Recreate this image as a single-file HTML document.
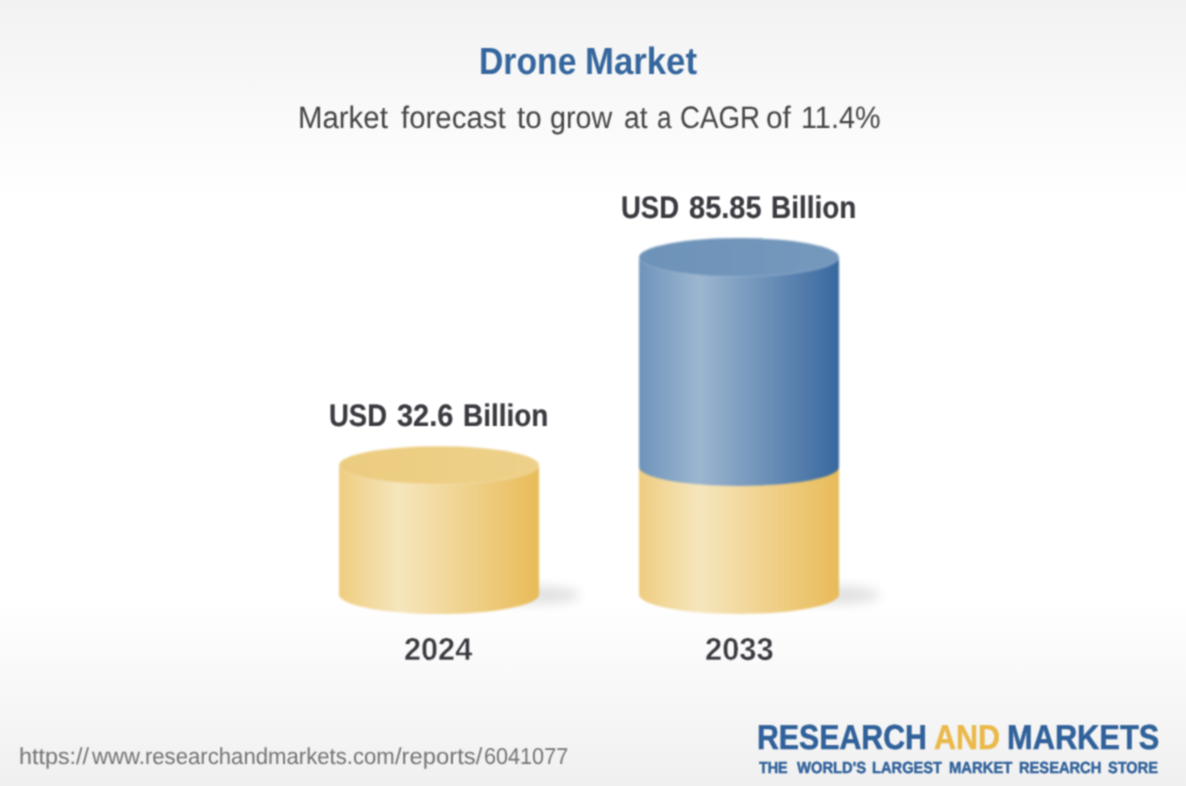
<!DOCTYPE html>
<html lang="en">
<head>
<meta charset="utf-8">
<title>Drone Market</title>
<style>
html,body{margin:0;padding:0;}
body{width:1186px;height:786px;overflow:hidden;position:relative;
  font-family:"Liberation Sans",Arial,sans-serif;
  background:linear-gradient(to bottom,#f2f2f2 0px,#ffffff 200px,#ffffff 600px,#f0f0f0 786px);}
svg.chart{position:absolute;left:0;top:0;width:1186px;height:786px;filter:blur(0.8px);}
.g{position:absolute;left:0;top:0;width:1186px;height:786px;filter:url(#soft);}
.t{position:absolute;white-space:nowrap;line-height:1;margin:0;transform-origin:0 0;text-rendering:geometricPrecision;}
.title{top:44px;font-size:37.8px;font-weight:bold;color:#35669d;}
.sub{top:101.76px;font-size:31px;font-weight:normal;color:#444444;}
.v2{top:192.1px;font-size:31.1px;font-weight:bold;color:#3a3a40;-webkit-text-stroke:0.2px currentColor;}
.v1{top:399.8px;font-size:31.1px;font-weight:bold;color:#3a3a40;-webkit-text-stroke:0.2px currentColor;}
.yr{top:633.6px;font-size:31.8px;font-weight:bold;color:#3a3a40;-webkit-text-stroke:0.4px #fbfbfb;}
.url{top:744.53px;font-size:23px;font-weight:normal;color:#747474;}
.lg{top:720.9px;font-size:34.6px;font-weight:bold;color:#30619a;-webkit-text-stroke:0.5px currentColor;}
.tag{top:760.9px;font-size:16px;font-weight:bold;color:#30619a;-webkit-text-stroke:0.45px currentColor;}
</style>
</head>
<body>
<svg class="chart" viewBox="0 0 1186 786">
  <defs>
    <linearGradient id="gy" x1="0" x2="1" y1="0" y2="0">
      <stop offset="0" stop-color="#eecd80"/>
      <stop offset="0.3" stop-color="#f6e6bd"/>
      <stop offset="1" stop-color="#e9bb58"/>
    </linearGradient>
    <linearGradient id="gb" x1="0" x2="1" y1="0" y2="0">
      <stop offset="0" stop-color="#6e94bb"/>
      <stop offset="0.3" stop-color="#9cb6cf"/>
      <stop offset="1" stop-color="#38689f"/>
    </linearGradient>
    <linearGradient id="ty" x1="0" x2="1" y1="0" y2="0">
      <stop offset="0" stop-color="#eccc80"/>
      <stop offset="1" stop-color="#eed189"/>
    </linearGradient>
    <linearGradient id="tb" x1="0" x2="1" y1="0" y2="0">
      <stop offset="0" stop-color="#6e93b8"/>
      <stop offset="1" stop-color="#7599bd"/>
    </linearGradient>
    <filter id="soft" filterUnits="userSpaceOnUse" x="0" y="0" width="1186" height="786" color-interpolation-filters="sRGB"><feConvolveMatrix order="3" kernelMatrix="0.06 0.12 0.06 0.12 0.28 0.12 0.06 0.12 0.06" divisor="1" edgeMode="none" preserveAlpha="false"/></filter>
    <filter id="bl" x="-50%" y="-50%" width="200%" height="200%"><feGaussianBlur stdDeviation="6"/></filter>
  </defs>
  <!-- shadows -->
  <ellipse cx="533" cy="595" rx="47" ry="9" fill="#000" opacity="0.12" filter="url(#bl)"/>
  <ellipse cx="833" cy="595" rx="47" ry="9" fill="#000" opacity="0.12" filter="url(#bl)"/>
  <!-- 2024 -->
  <path d="M339 465.2 L339 594.5 A100 19.5 0 0 0 539 594.5 L539 465.2 Z" fill="url(#gy)"/>
  <ellipse cx="439" cy="465.2" rx="100" ry="19" fill="url(#ty)"/>
  <path d="M339 465.2 A100 19 0 0 0 539 465.2" fill="none" stroke="#fff" stroke-opacity="0.22" stroke-width="1"/>
  <!-- 2033 -->
  <path d="M639 467 L639 594.5 A100 19.5 0 0 0 839 594.5 L839 467 Z" fill="url(#gy)"/>
  <path d="M639 257.3 L639 467 A100 19 0 0 0 839 467 L839 257.3 Z" fill="url(#gb)"/>
  <ellipse cx="739" cy="257.3" rx="100" ry="19.3" fill="url(#tb)"/>
  <path d="M639 257.3 A100 19.3 0 0 0 839 257.3" fill="none" stroke="#fff" stroke-opacity="0.2" stroke-width="1"/>
</svg>
<div class="g"><span class="t title" style="left:479.07px;transform:scaleX(0.8927);">Drone</span> <span class="t title" style="left:585.40px;transform:scaleX(0.9190);">Market</span></div>
<div class="g"><span class="t sub" style="left:297.76px;transform:scaleX(0.9481);">Market</span> <span class="t sub" style="left:400.70px;transform:scaleX(0.9497);">forecast</span> <span class="t sub" style="left:516.73px;transform:scaleX(0.9565);">to</span> <span class="t sub" style="left:549.64px;transform:scaleX(0.9260);">grow</span> <span class="t sub" style="left:623.75px;transform:scaleX(0.9106);">at</span> <span class="t sub" style="left:657.05px;transform:scaleX(0.8473);">a</span> <span class="t sub" style="left:679.74px;transform:scaleX(0.8939);">CAGR</span> <span class="t sub" style="left:765.95px;transform:scaleX(0.9621);">of</span> <span class="t sub" style="left:801.19px;transform:scaleX(0.9286);">11.4%</span></div>
<div class="g"><span class="t v2" style="left:621.13px;transform:scaleX(0.8844);">USD</span> <span class="t v2" style="left:688.87px;transform:scaleX(0.9334);">85.85</span> <span class="t v2" style="left:771.42px;transform:scaleX(0.8974);">Billion</span></div>
<div class="g"><span class="t v1" style="left:329.48px;transform:scaleX(0.8829);">USD</span> <span class="t v1" style="left:396.96px;transform:scaleX(0.9313);">32.6</span> <span class="t v1" style="left:462.59px;transform:scaleX(0.8982);">Billion</span></div>
<div class="g"><span class="t yr" style="left:404.11px;transform:scaleX(0.9642);">2024</span> <span class="t yr" style="left:704.55px;transform:scaleX(0.9711);">2033</span></div>
<div class="g"><span class="t url" style="left:18.59px;transform:scaleX(1.0139);">https://</span><span class="t url" style="left:91.96px;transform:scaleX(0.9628);">www.researchandmarkets.com</span><span class="t url" style="left:394.80px;transform:scaleX(1.0344);">/reports/</span><span class="t url" style="left:483.76px;transform:scaleX(0.9402);">6041077</span></div>
<div class="g"><span class="t lg" style="left:757.02px;transform:scaleX(0.8757);">RESEARCH</span> <span class="t lg" style="left:933.74px;transform:scaleX(0.8807);color:#eab94b;">AND</span> <span class="t lg" style="left:1006.81px;transform:scaleX(0.8905);">MARKETS</span></div>
<div class="g"><span class="t tag" style="left:759.17px;transform:scaleX(0.8960);">THE</span> <span class="t tag" style="left:796.94px;transform:scaleX(0.9228);">WORLD'S</span> <span class="t tag" style="left:871.57px;transform:scaleX(0.9162);">LARGEST</span> <span class="t tag" style="left:949.09px;transform:scaleX(0.9260);">MARKET</span> <span class="t tag" style="left:1018.87px;transform:scaleX(0.9162);">RESEARCH</span> <span class="t tag" style="left:1108.41px;transform:scaleX(0.9097);">STORE</span></div>
</body>
</html>
